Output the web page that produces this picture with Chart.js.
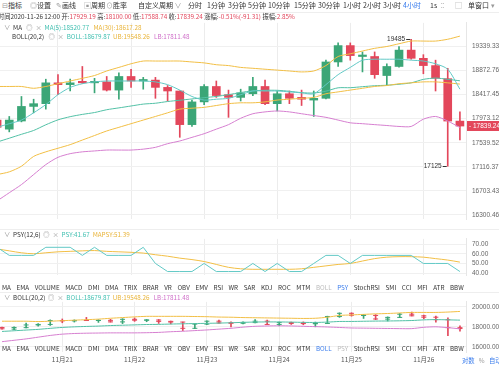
<!DOCTYPE html>
<html>
<head>
<meta charset="utf-8">
<script src="https://cdn.jsdelivr.net/npm/chart.js@4.4.1/dist/chart.umd.min.js"></script>
<style>
  html, body { margin: 0; padding: 0; background: #fff; }
  body { width: 499px; height: 366px; position: relative; overflow: hidden;
         font-family: "Noto Sans CJK SC", "Noto Sans", sans-serif; color: #333; }
  canvas { position: absolute; left: -9px; }
  .a { position: absolute; white-space: nowrap; line-height: 1; }
  .tb { font-size: 7px; top: 1.5px; }
  .sm { font-size: 6.3px; }
  .g { color: #999; }
  .hl { color: #3b7ded; }
  .dim { color: #bbb; }
  .r { color: #e2465b; }
  .hline { position: absolute; left: 0; width: 499px; height: 1px; background: #eeeeee; }
  .vline { position: absolute; top: 0; left: 466px; width: 1px; height: 366px; background: #e8e8e8; }
</style>
</head>
<body>
<canvas id="main" width="508" height="216" style="top:13px"></canvas>
<canvas id="psy" width="508" height="56" style="top:229px"></canvas>
<canvas id="mini" width="508" height="74" style="top:292px"></canvas>
<div class="hline" style="top:12px"></div>
<div class="hline" style="top:229px"></div>
<div class="hline" style="top:292px"></div>

<!-- toolbar -->
<div class="a tb" style="left:2px"><span class="g">⊟</span>指标</div>
<div class="a tb" style="left:30px"><span class="g">◎</span>设置</div>
<div class="a tb" style="left:56px"><span class="g">✎</span>画线</div>
<div class="a tb" style="left:84px"><span class="g">▣</span>周期</div>
<div class="a tb" style="left:106px"><span class="g">⊙</span>胜率</div>
<div class="a tb" style="left:138px">自定义周期 <span class="g">∨</span></div>
<div class="a tb" style="left:188px">分时</div>
<div class="a tb" style="left:207px">1分钟</div>
<div class="a tb" style="left:228px">3分钟</div>
<div class="a tb" style="left:248px">5分钟</div>
<div class="a tb" style="left:268px">10分钟</div>
<div class="a tb" style="left:294px">15分钟</div>
<div class="a tb" style="left:318px">30分钟</div>
<div class="a tb" style="left:343px">1小时</div>
<div class="a tb" style="left:363px">2小时</div>
<div class="a tb" style="left:383px">3小时</div>
<div class="a tb hl" style="left:403px">4小时</div>
<div class="a tb" style="left:430px">1s</div>
<div class="a tb g" style="left:441px">⁚⁚</div>
<div class="a tb g" style="left:455px">▢</div>
<div class="a tb" style="left:468px">单窗口 <span class="g">▾</span></div>

<!-- info rows -->
<div class="a sm" style="left:-2px;top:14px">时间2020-11-26 12:00 开:<span class="r">17929.19</span> 高:<span class="r">18100.00</span> 低:<span class="r">17588.74</span> 收:<span class="r">17839.24</span> 涨幅:<span class="r">-0.51%(-91.31)</span> 振幅:<span class="r">2.85%</span></div>
<div class="a sm" style="left:4px;top:24.5px"><span class="g">∨</span>&nbsp; MA &nbsp;&nbsp;<span class="g">◎ &nbsp;×</span>&nbsp; <span style="color:#3fbfb0">MA(5):18520.77</span>&nbsp;&nbsp; <span style="color:#e9b43a">MA(30):18617.28</span></div>
<div class="a sm" style="left:12px;top:34px">BOLL(20,2) &nbsp;&nbsp;<span class="g">◎ &nbsp;×</span>&nbsp; <span style="color:#3fbfb0">BOLL:18679.87</span>&nbsp; <span style="color:#e9b43a">UB:19548.26</span>&nbsp;&nbsp; <span style="color:#cf6fc8">LB:17811.48</span></div>

<div class="a sm" style="left:4px;top:232px"><span class="g">∨</span>&nbsp; PSY(12,6) &nbsp;<span class="g">◎ &nbsp;×</span>&nbsp; <span style="color:#3fbfb0">PSY:41.67</span>&nbsp; <span style="color:#e9b43a">MAPSY:51.39</span></div>
<div id="tabs1" class="a sm" style="left:0;top:285px;width:466px"></div>
<div class="a sm" style="left:4px;top:295px"><span class="g">∨</span>&nbsp; BOLL(20,2) &nbsp;<span class="g">◎ &nbsp;×</span>&nbsp; <span style="color:#3fbfb0">BOLL:18679.87</span>&nbsp; <span style="color:#e9b43a">UB:19548.26</span>&nbsp;&nbsp; <span style="color:#cf6fc8">LB:17811.48</span></div>
<div id="tabs2" class="a sm" style="left:0;top:346px;width:466px"></div>
<div class="a sm" style="left:462px;top:358px"><span class="hl">对数</span>&nbsp;&nbsp; <span class="g">%</span>&nbsp;&nbsp; <span class="hl">自动</span></div>

<script>
// 4-hour candles, 11-20 04:00 .. 11-26 12:00
const slots = [
  '11-20 04:00', '11-20 08:00', '11-20 12:00', '11-20 16:00', '11-20 20:00',
  '11-21 00:00', '11-21 04:00', '11-21 08:00', '11-21 12:00', '11-21 16:00', '11-21 20:00',
  '11-22 00:00', '11-22 04:00', '11-22 08:00', '11-22 12:00', '11-22 16:00', '11-22 20:00',
  '11-23 00:00', '11-23 04:00', '11-23 08:00', '11-23 12:00', '11-23 16:00', '11-23 20:00',
  '11-24 00:00', '11-24 04:00', '11-24 08:00', '11-24 12:00', '11-24 16:00', '11-24 20:00',
  '11-25 00:00', '11-25 04:00', '11-25 08:00', '11-25 12:00', '11-25 16:00', '11-25 20:00',
  '11-26 00:00', '11-26 04:00', '11-26 08:00', '11-26 12:00'
];

const open  = [17948, 17783, 17931, 18199, 18250, 18641, 18607, 18659, 18641, 18659, 18504, 18762, 18676, 18693, 18555, 18487, 17865, 18283, 18572, 18418,
               18367, 18435, 18572, 18250, 18435, 18367, 18317, 18350, 19041, 19361, 19147, 19147, 18780, 18954, 19272, 19112, 18971, 18720, 17929.19];
const high  = [17981, 18014, 18384, 18333, 18710, 18797, 18710, 18954, 18727, 18762, 18832, 18901, 18745, 18745, 18590, 18490, 18317, 18607, 18676, 18504,
               18521, 18745, 18693, 18487, 18487, 18504, 18487, 19076, 19414, 19414, 19236, 19236, 19006, 19343, 19485, 19183, 19076, 18919, 18100.00];
const low   = [17767, 17734, 17915, 18081, 18149, 18418, 18487, 18630, 18452, 18487, 18333, 18555, 18521, 18350, 18300, 17636, 17832, 18233, 18367, 17998,
               18300, 18401, 18233, 18115, 18250, 18216, 18014, 18340, 18954, 19076, 18849, 18727, 18590, 18940, 19094, 18814, 18487, 17125, 17588.74];
const close = [17816, 17948, 18199, 18250, 18641, 18607, 18641, 18641, 18659, 18504, 18762, 18676, 18693, 18555, 18487, 17865, 18283, 18572, 18401, 18367,
               18452, 18572, 18250, 18435, 18350, 18333, 18350, 19041, 19361, 19165, 19165, 18797, 18954, 19272, 19112, 18971, 18727, 17930, 17839.24];

const ma5   = [17816, 17882, 17948, 18081, 18233, 18418, 18555, 18624, 18659, 18676, 18676, 18676, 18676, 18659, 18607, 18504, 18384, 18317, 18333, 18350,
               18418, 18487, 18487, 18487, 18470, 18452, 18435, 18607, 18797, 18936, 19076, 19094, 19094, 19094, 19076, 19059, 19006, 18901, 18520.77];
const ma30  = [16980, 17027, 17125, 17297, 17377, 17441, 17505, 17587, 17668, 17750, 17816, 17882, 17948, 18014, 18081, 18149, 18166, 18182, 18216, 18250,
               18266, 18266, 18283, 18317, 18333, 18350, 18367, 18435, 18470, 18504, 18538, 18572, 18590, 18624, 18641, 18659, 18659, 18641, 18617.28];
const bollMid = [17551, 17620, 17690, 17759, 17862, 17952, 18010, 18052, 18086, 18138, 18172, 18207, 18242, 18258, 18290, 18314, 18338, 18362, 18385, 18418,
                 18458, 18491, 18500, 18500, 18482, 18456, 18449, 18484, 18547, 18549, 18568, 18586, 18596, 18614, 18641, 18707, 18732, 18708, 18679.87];
const bollUp  = [18572, 18572, 18572, 18538, 18572, 18624, 18676, 18727, 18780, 18867, 18936, 19006, 19059, 19059, 19059, 19059, 19041, 19023, 18988, 18971,
                 18936, 18919, 18901, 18884, 18867, 18849, 18867, 18971, 19147, 19200, 19254, 19307, 19343, 19397, 19450, 19450, 19450, 19486, 19548.26];
const bollLow = [16531, 16669, 16808, 16980, 17153, 17281, 17345, 17377, 17393, 17409, 17409, 17409, 17425, 17457, 17522, 17570, 17635, 17701, 17783, 17865,
                 17981, 18064, 18098, 18115, 18098, 18064, 18031, 17998, 17948, 17898, 17882, 17865, 17849, 17832, 17832, 17965, 18014, 17931, 17811.48];

const psy   = [66.67, 58.33, 58.33, 58.33, 66.67, 66.67, 66.67, 58.33, 66.67, 58.33, 58.33, 58.33, 66.67, 50.00, 41.67, 41.67, 41.67, 50.00, 41.67, 41.67,
               41.67, 50.00, 41.67, 50.00, 41.67, 41.67, 50.00, 58.33, 58.33, 50.00, 58.33, 58.33, 58.33, 58.33, 58.33, 50.00, 50.00, 50.00, 41.67];
const mapsy = [65.0, 63.0, 61.0, 60.0, 61.0, 62.0, 62.5, 63.0, 63.3, 62.5, 62.0, 61.5, 60.7, 59.0, 57.5, 55.5, 54.0, 52.0, 49.0, 46.0,
               44.5, 44.0, 44.0, 44.0, 44.0, 44.5, 46.0, 47.5, 49.0, 50.0, 52.5, 55.0, 56.5, 57.0, 57.0, 56.5, 55.0, 53.5, 51.39];

const mainTicks = [16300.46, 16703.43, 17116.37, 17539.52, 17973.12, 18417.45, 18872.76, 19339.33];
const psyTicks = [40, 50, 60, 70];
const miniTicks = [16000, 18000, 20000];
const tabNames = ['MA', 'EMA', 'VOLUME', 'MACD', 'DMI', 'DMA', 'TRIX', 'BRAR', 'VR', 'OBV', 'EMV', 'RSI', 'WR', 'SAR',
                  'KDJ', 'ROC', 'MTM', 'BOLL', 'PSY', 'StochRSI', 'SMI', 'CCI', 'MFI', 'ATR', 'BBW'];

const GREEN = '#3ba677', RED = '#e3475b';
const TEAL = '#62c9c6', TEAL2 = '#52c1a6', GOLD = '#f2bf45', PINK = '#d67fd0';
const GRID = '#f0f0f0';

Chart.defaults.font.family = '"Liberation Sans", Arial, sans-serif';
Chart.defaults.font.size = 6.5;
Chart.defaults.color = '#666';
Chart.defaults.animation = false;
Chart.defaults.events = [];
Chart.defaults.plugins.legend.display = false;
Chart.defaults.plugins.tooltip.enabled = false;

// tab rows
function fillTabs(id, active, dim) {
  const el = document.getElementById(id);
  let x = 2;
  tabNames.forEach(n => {
    const s = document.createElement('span');
    s.textContent = n;
    s.style.position = 'absolute';
    s.style.left = x + 'px';
    if (n === active) s.className = 'hl';
    if (n === dim) s.className = 'dim';
    el.appendChild(s);
    x += s.getBoundingClientRect().width + 5.6;
  });
}
fillTabs('tabs1', 'PSY', 'BOLL');
fillTabs('tabs2', 'BOLL', 'PSY');

const candleColor = slots.map((_, i) => close[i] >= open[i] ? GREEN : RED);
const isDay = i => slots[i] && slots[i].endsWith('00:00');

function xScale(showLabels) {
  return {
    type: 'category',
    offset: true,
    display: true,
    grid: { offset: false, drawTicks: false, color: c => isDay(c.index) ? '#ececec' : 'rgba(0,0,0,0)' },
    border: { display: false },
    ticks: {
      display: showLabels, autoSkip: false, maxRotation: 0, padding: 4, color: '#555',
      font: { family: '"Noto Sans CJK SC", sans-serif', size: 6.5 },
      callback: (v, i) => isDay(i) ? (slots[i].slice(0, 2).replace(/^0/, '') + '月' + slots[i].slice(3, 5)) : ''
    },
    afterFit: s => { s.height = showLabels ? 14 : 0; }
  };
}

function yScale(ticks, min, max, type) {
  return {
    type: type || 'linear',
    position: 'right',
    min: min, max: max,
    afterBuildTicks: s => { s.ticks = ticks.map(v => ({ value: v })); },
    afterFit: s => { s.width = 33; },
    grid: { color: GRID, drawTicks: false },
    border: { color: '#e6e6e6' },
    ticks: { padding: 6, color: '#666', callback: v => Number(v).toFixed(2) }
  };
}

const lineDs = (data, color, order) => ({
  type: 'line', data: data, borderColor: color, borderWidth: 1, pointRadius: 0,
  tension: 0.25, fill: false, order: order || 1
});

// price marks and last price tag
const marks = {
  id: 'marks',
  afterDatasetsDraw(chart) {
    const { ctx, chartArea } = chart;
    const x = chart.scales.x, y = chart.scales.y;
    ctx.save();
    ctx.font = '6.5px "Liberation Sans", Arial, sans-serif';
    ctx.textBaseline = 'middle';
    ctx.fillStyle = '#333';
    ctx.strokeStyle = '#333';
    ctx.lineWidth = 1;
    const hi = high.indexOf(Math.max(...high));
    const lo = low.indexOf(Math.min(...low));
    [[hi, high[hi]], [lo, low[lo]]].forEach(([i, v]) => {
      const px = x.getPixelForValue(i), py = Math.round(y.getPixelForValue(v)) + 0.5;
      ctx.textAlign = 'right';
      ctx.fillText(String(Math.round(v)), px - 6, py);
      ctx.beginPath(); ctx.moveTo(px - 5, py); ctx.lineTo(px - 1, py); ctx.stroke();
    });
    const last = close.length - 1;
    const py = Math.round(y.getPixelForValue(close[last]));
    ctx.fillStyle = RED;
    ctx.fillRect(chartArea.right + 1, py - 5, chart.width - chartArea.right - 1, 10);
    ctx.fillStyle = '#fff';
    ctx.textAlign = 'left';
    ctx.fillText('- ' + close[last].toFixed(2), chartArea.right + 3, py);
    ctx.restore();
  }
};

new Chart(document.getElementById('main'), {
  type: 'bar',
  data: {
    labels: slots,
    datasets: [
      lineDs(ma5, TEAL), lineDs(ma30, GOLD), lineDs(bollMid, TEAL2), lineDs(bollUp, GOLD), lineDs(bollLow, PINK),
      { label: 'wick', data: slots.map((_, i) => [low[i], high[i]]), backgroundColor: candleColor,
        barThickness: 1, grouped: false, order: 3 },
      { label: 'body', data: slots.map((_, i) => [open[i], close[i]]), backgroundColor: candleColor,
        barThickness: 8, minBarLength: 1.5, grouped: false, order: 2 }
    ]
  },
  options: {
    responsive: false,
    layout: { padding: 0 },
    scales: { x: xScale(false), y: yScale(mainTicks, 16228, 19813, 'logarithmic') }
  },
  plugins: [marks]
});

new Chart(document.getElementById('psy'), {
  type: 'line',
  data: {
    labels: slots,
    datasets: [
      { data: psy, borderColor: TEAL, borderWidth: 1, pointRadius: 0, tension: 0 },
      { data: mapsy, borderColor: GOLD, borderWidth: 1, pointRadius: 0, tension: 0.3 }
    ]
  },
  options: {
    responsive: false,
    layout: { padding: 0 },
    scales: { x: xScale(false), y: yScale(psyTicks, 38, 75.33) }
  }
});

new Chart(document.getElementById('mini'), {
  type: 'bar',
  data: {
    labels: slots,
    datasets: [
      lineDs(bollUp, GOLD), lineDs(bollMid, TEAL2), lineDs(bollLow, PINK),
      { data: slots.map((_, i) => [low[i], high[i]]), backgroundColor: candleColor,
        barThickness: 1, minBarLength: 1, grouped: false, order: 3 },
      { type: 'line', data: open, showLine: false, pointStyle: 'line', pointRadius: 2.5,
        pointBorderColor: candleColor, pointBorderWidth: 1, order: 2 },
      { type: 'line', data: close, showLine: false, pointStyle: 'line', pointRadius: 2.5,
        pointBorderColor: candleColor, pointBorderWidth: 1, order: 2 }
    ]
  },
  options: {
    responsive: false,
    layout: { padding: 0 },
    scales: { x: xScale(true), y: yScale(miniTicks, 15500, 20500) }
  }
});
</script>
</body>
</html>
